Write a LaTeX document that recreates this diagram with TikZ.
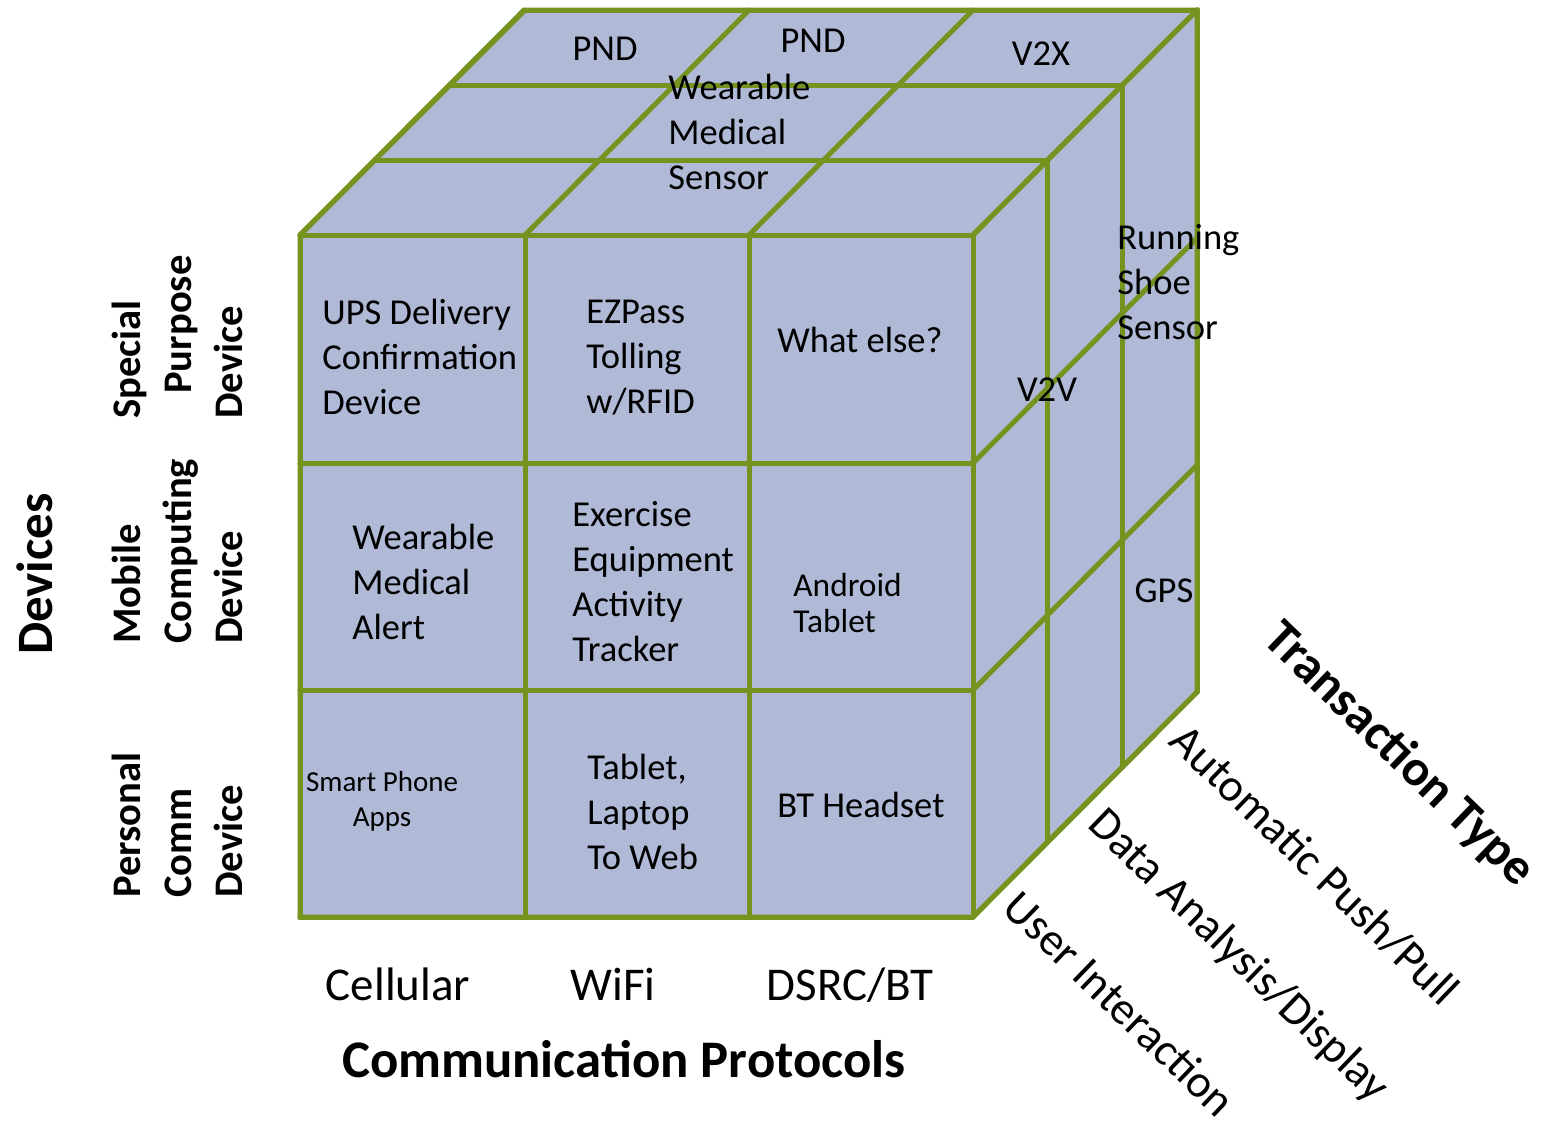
\documentclass[tikz,border=0pt]{standalone}
\usepackage{fontspec}
\setmainfont{Carlito}
\definecolor{cubefill}{RGB}{176,186,215}
\definecolor{cubeline}{RGB}{118,147,32}
\newcommand\fsz[2]{\fontsize{#1}{#2}\selectfont}
\begin{document}
\begin{tikzpicture}[x=0.5pt,y=-0.5pt,
  grid/.style={draw=cubeline,line width=2.5pt,line cap=round},
  cell/.style={font=\fsz{18.25}{22.5},inner sep=0pt,align=left,anchor=west},
  lab/.style={font=\fsz{18.25}{22.5},inner sep=0pt,anchor=base},
  axislab/.style={font=\fsz{23.5}{28},inner sep=0pt,anchor=base},
  rowlab/.style={font=\bfseries\fsz{20.3}{25.5},inner sep=0pt,align=left,rotate=90,anchor=south west},
  diaglab/.style={font=\fsz{23}{27},inner sep=0pt,rotate=-44}
]
\useasboundingbox (0,0) rectangle (1548,1121);
\fill[white] (0,0) rectangle (1548,1121);
% cube body
\fill[cubefill] (300,235) -- (525,10) -- (1197,10) -- (1197,692) -- (973,917) -- (300,917) -- cycle;
% front face grid
\foreach \x in {300,525,749,973} {
  \draw[grid] (\x,235) -- (\x,917);
  \draw[grid] (\x,235) -- ++(224,-225);
}
\foreach \y in {235,463,690,917} {
  \draw[grid] (300,\y) -- (973,\y);
  \draw[grid] (973,\y) -- ++(224,-225);
}
% depth layers
\foreach \k in {1,2,3} {
  \draw[grid] ({300+74.67*\k},{235-75*\k}) -- ({973+74.67*\k},{235-75*\k});
  \draw[grid] ({973+74.67*\k},{235-75*\k}) -- ({973+74.67*\k},{917-75*\k});
}
\draw[draw=cubeline,line width=2.5pt,line join=miter] (300,917) -- (300,235) -- (525,10) -- (1197,10) -- (1197,692) -- (973,917) -- cycle;

% top face labels
\node[lab] (pnda) at (605,60) {PND};
\node[lab] (pndb) at (813,52) {PND};
\node[lab] (v2x) at (1041,65) {V2X};
\node[cell] (wms) at (668,135) {\strut Wearable\\\strut Medical\\\strut Sensor};
% right face labels
\node[cell] (rss) at (1117,285) {\strut Running\\\strut Shoe\\\strut Sensor};
\node[lab] (v2v) at (1047,401) {V2V};
\node[lab] (gps) at (1164,602) {GPS};
% front face labels
\node[cell] (ups) at (322,360) {\strut UPS Delivery\\\strut Confirmation\\\strut Device};
\node[cell] (ezp) at (586,359) {\strut EZPass\\\strut Tolling\\\strut w/RFID};
\node[lab,anchor=base west] (what) at (777,352) {What else?};
\node[cell] (wma) at (352,585) {\strut Wearable\\\strut Medical\\\strut Alert};
\node[cell] (exe) at (572,584.5) {\strut Exercise\\\strut Equipment\\\strut Activity\\\strut Tracker};
\node[cell,font=\fsz{16.7}{18}] (and) at (793,607.5) {\strut Android\\\strut Tablet};
\node[cell,font=\fsz{14.5}{17.5},align=center,anchor=center] (spa) at (382,802) {\strut Smart Phone\\\strut Apps};
\node[cell] (tlw) at (587,815) {\strut Tablet,\\\strut Laptop\\\strut To Web};
\node[lab,anchor=base west] (bth) at (777,817) {BT Headset};
% bottom axis
\node[axislab] (cell) at (398,1000) {Cellular};
\node[axislab] (wifi) at (613,1000) {WiFi};
\node[axislab] (dsrc) at (850,1000) {DSRC/BT};
\node[font=\bfseries\fsz{26.4}{32},inner sep=0pt,anchor=base] (cp) at (624,1077) {Communication Protocols};
% left axis
\node[font=\bfseries\fsz{25.5}{30},inner sep=0pt,rotate=90,anchor=base] (dev) at (52,574) {Devices};
\node[rowlab] (spd) at (258.3,419) {\strut Special\\\strut\hspace*{12.5pt}Purpose\\\strut Device};
\node[rowlab] (mcd) at (258.3,644) {\strut Mobile\\\strut Computing\\\strut Device};
\node[rowlab] (pcd) at (258.3,898) {\strut Personal\\\strut Comm\\\strut Device};
% depth axis
\node[diaglab,font=\bfseries\fsz{25.4}{29}] (tt) at (1399,755) {Transaction Type};
\node[diaglab] (app) at (1315,865) {Automatic Push/Pull};
\node[diaglab] (dad) at (1238,956.5) {Data Analysis/Display};
\node[diaglab] (ui) at (1120,1003.5) {User Interaction};
\end{tikzpicture}
\end{document}
